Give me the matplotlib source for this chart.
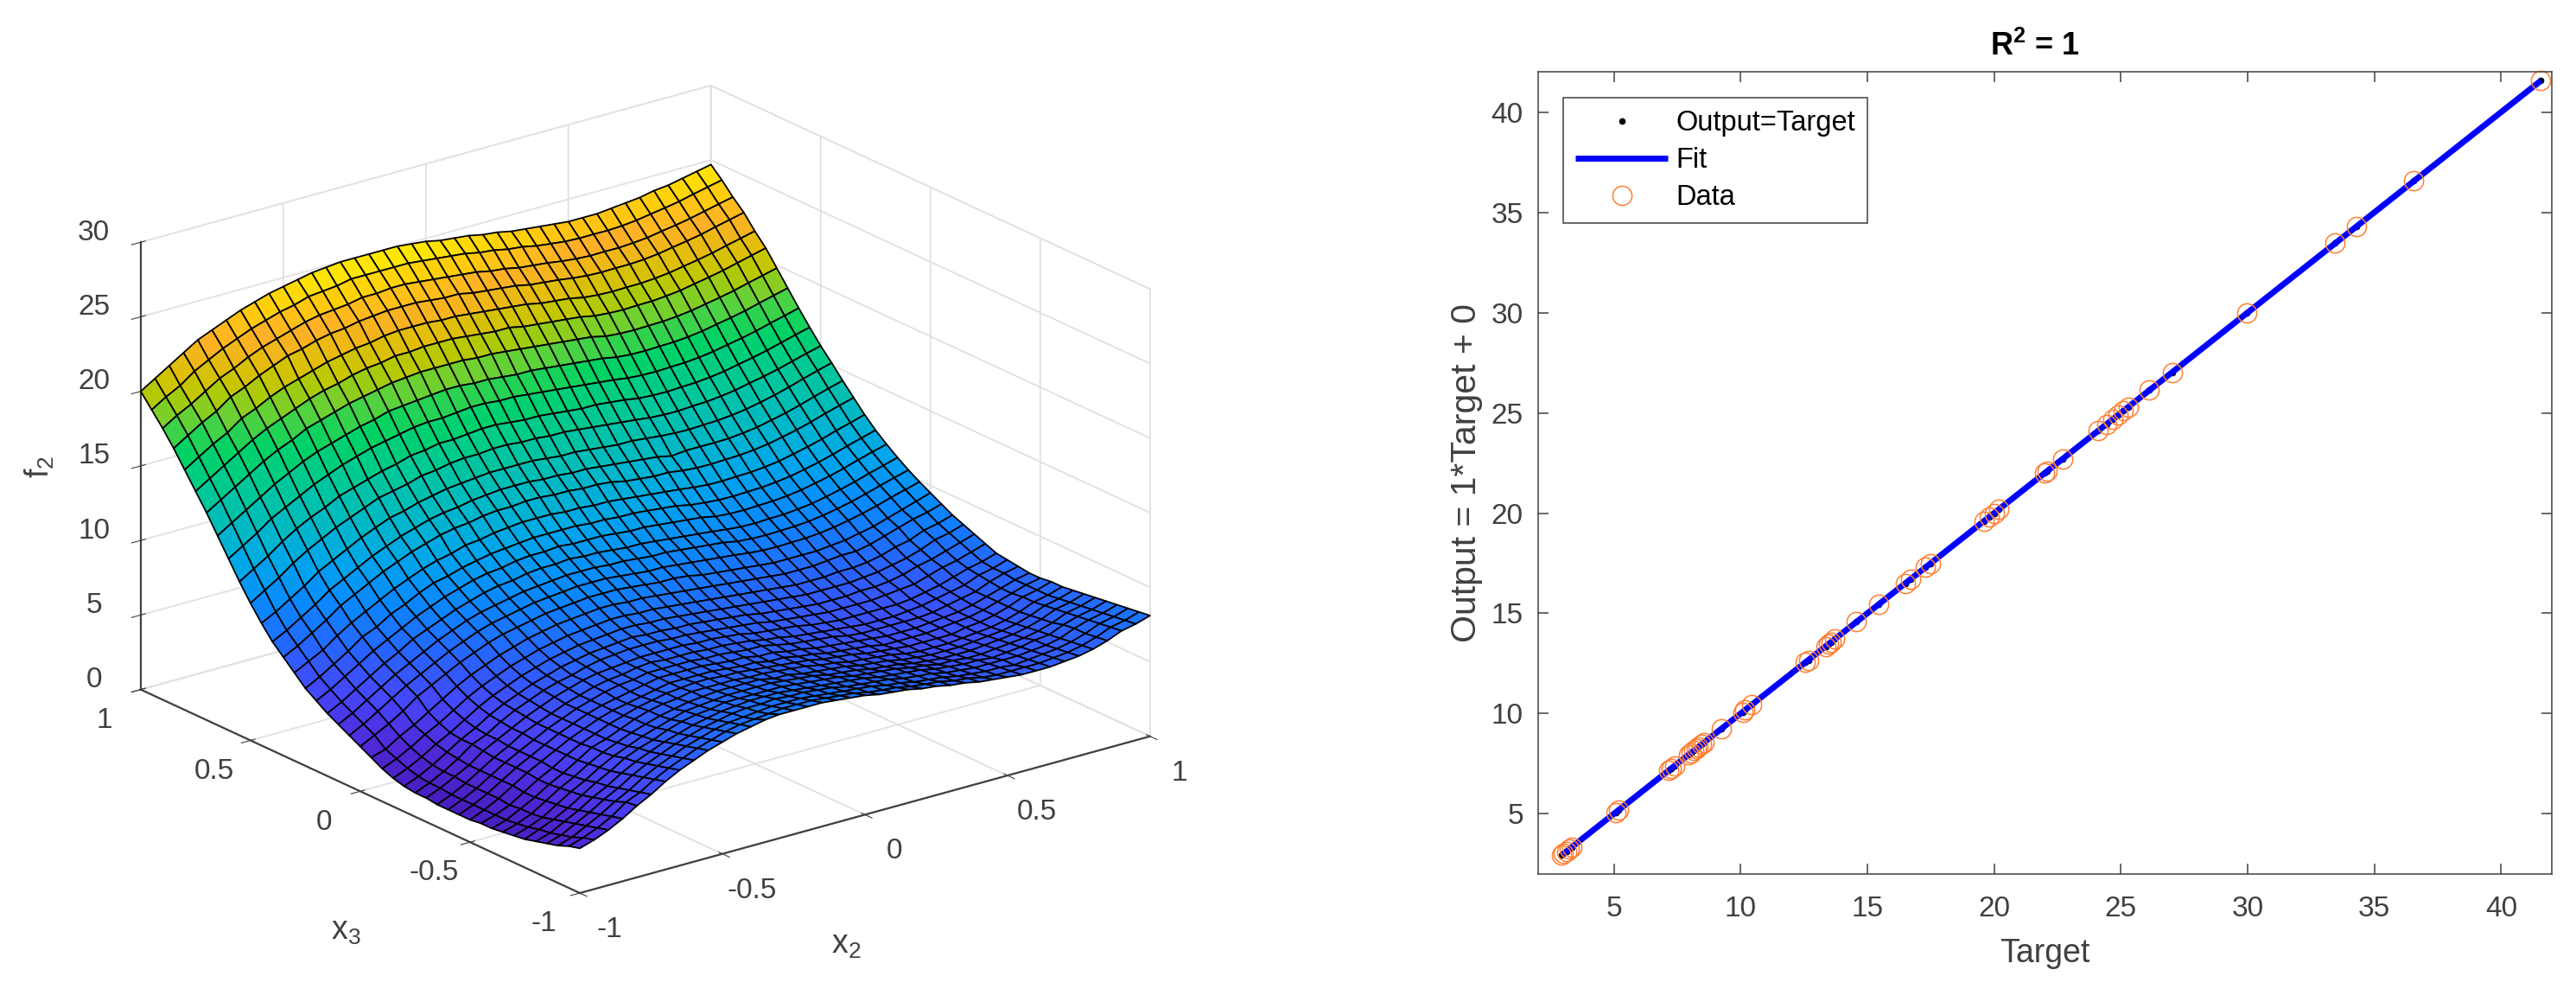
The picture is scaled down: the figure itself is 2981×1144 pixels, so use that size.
import numpy as np
import matplotlib
matplotlib.use('Agg')
import matplotlib.pyplot as plt
from matplotlib.colors import LinearSegmentedColormap, Normalize
from mpl_toolkits.mplot3d import proj3d

################################################################################
# Data
################################################################################
# Surface on the left: one row per x3 value, one column per x2 value
x2_vals = [i / 20 - 1 for i in range(41)]
x3_vals = [j / 20 - 1 for j in range(41)]
f2_vals = [
 [3.0,3.3,3.7,4.2,4.8,5.3,5.9,6.4,6.8,7.2,7.5,7.8,8.0,8.2,8.3,8.3,8.3,8.3,8.2,8.1,8.0,7.8,7.7,7.6,7.4,7.3,7.1,7.0,6.8,6.7,6.6,6.5,6.5,6.5,6.6,6.7,6.9,7.2,7.6,7.8,8.1],
 [2.8,3.1,3.5,4.0,4.7,5.1,5.7,6.2,6.6,7.0,7.3,7.6,7.8,7.9,8.0,8.1,8.1,8.1,8.0,7.9,7.8,7.6,7.5,7.4,7.2,7.1,7.0,6.8,6.7,6.5,6.4,6.4,6.4,6.4,6.5,6.6,6.8,7.1,7.5,7.7,8.0],
 [2.5,2.8,3.3,3.8,4.4,4.9,5.5,6.0,6.4,6.8,7.1,7.4,7.6,7.7,7.8,7.9,7.9,7.9,7.8,7.7,7.6,7.5,7.4,7.2,7.1,6.9,6.8,6.7,6.5,6.4,6.3,6.3,6.2,6.3,6.4,6.5,6.7,7.0,7.4,7.6,7.9],
 [2.3,2.6,3.1,3.6,4.2,4.7,5.3,5.8,6.2,6.6,6.9,7.2,7.4,7.6,7.7,7.7,7.8,7.7,7.7,7.6,7.5,7.3,7.2,7.1,7.0,6.8,6.7,6.6,6.4,6.3,6.2,6.2,6.2,6.2,6.3,6.4,6.6,7.0,7.3,7.5,7.8],
 [2.1,2.4,2.9,3.4,4.0,4.5,5.1,5.6,6.0,6.4,6.7,7.0,7.2,7.4,7.5,7.6,7.6,7.6,7.5,7.4,7.3,7.2,7.1,7.0,6.8,6.7,6.6,6.5,6.3,6.2,6.1,6.1,6.0,6.1,6.2,6.4,6.5,6.9,7.2,7.4,7.7],
 [1.9,2.3,2.7,3.2,3.8,4.4,4.9,5.5,5.9,6.2,6.6,6.9,7.1,7.2,7.4,7.4,7.4,7.4,7.4,7.3,7.2,7.1,7.0,6.8,6.7,6.6,6.5,6.3,6.2,6.0,6.0,5.9,5.9,6.0,6.1,6.2,6.4,6.7,7.1,7.3,7.6],
 [1.8,2.1,2.5,3.1,3.7,4.2,4.8,5.3,5.7,6.1,6.4,6.7,7.0,7.1,7.2,7.3,7.3,7.3,7.3,7.2,7.1,7.0,6.8,6.7,6.6,6.4,6.3,6.2,6.0,5.9,5.8,5.8,5.8,5.9,6.0,6.1,6.3,6.6,7.0,7.2,7.5],
 [1.7,2.0,2.4,3.0,3.6,4.1,4.7,5.2,5.6,6.0,6.3,6.6,6.8,7.0,7.1,7.2,7.2,7.2,7.2,7.0,7.0,6.8,6.7,6.6,6.5,6.3,6.2,6.1,5.9,5.8,5.7,5.7,5.7,5.8,5.9,6.0,6.2,6.5,6.9,7.1,7.4],
 [1.6,1.9,2.4,2.9,3.5,4.0,4.6,5.2,5.5,5.9,6.3,6.6,6.8,6.9,7.1,7.1,7.1,7.1,7.0,7.0,6.9,6.8,6.7,6.5,6.4,6.2,6.1,6.0,5.9,5.7,5.6,5.6,5.6,5.7,5.8,5.9,6.1,6.4,6.8,7.0,7.3],
 [1.6,1.9,2.3,2.9,3.5,4.0,4.6,5.1,5.5,5.9,6.2,6.5,6.7,6.9,7.0,7.1,7.1,7.0,7.0,6.9,6.8,6.7,6.6,6.5,6.3,6.2,6.1,5.9,5.8,5.7,5.6,5.6,5.6,5.6,5.8,5.9,6.1,6.4,6.8,7.0,7.3],
 [1.5,1.9,2.4,3.0,3.6,4.1,4.6,5.1,5.5,5.9,6.2,6.4,6.6,6.8,7.0,7.0,7.0,7.0,6.9,6.8,6.8,6.6,6.6,6.4,6.3,6.1,6.0,5.9,5.8,5.6,5.6,5.6,5.6,5.7,5.8,5.9,6.1,6.4,6.7,7.0,7.2],
 [1.5,1.9,2.4,3.0,3.6,4.1,4.6,5.1,5.5,5.9,6.2,6.4,6.6,6.8,7.0,7.0,7.0,7.0,6.9,6.8,6.8,6.6,6.6,6.4,6.3,6.1,6.0,5.9,5.8,5.7,5.6,5.6,5.6,5.7,5.8,5.9,6.1,6.4,6.7,7.0,7.2],
 [1.5,1.9,2.4,3.0,3.6,4.1,4.6,5.1,5.5,5.9,6.2,6.5,6.7,6.8,7.0,7.0,7.0,7.0,6.9,6.9,6.8,6.7,6.7,6.5,6.3,6.2,6.1,6.0,5.8,5.7,5.7,5.7,5.7,5.7,5.8,6.0,6.2,6.4,6.8,7.1,7.3],
 [1.5,1.9,2.4,3.0,3.6,4.1,4.7,5.1,5.5,5.9,6.2,6.5,6.7,6.8,7.0,7.1,7.0,7.0,7.0,6.9,6.9,6.8,6.7,6.5,6.4,6.2,6.1,6.0,5.9,5.8,5.7,5.7,5.7,5.8,5.9,6.1,6.3,6.5,6.9,7.1,7.4],
 [1.6,2.0,2.5,3.0,3.7,4.2,4.7,5.2,5.6,6.0,6.3,6.6,6.8,6.9,7.0,7.1,7.1,7.1,7.1,7.0,7.0,6.9,6.8,6.6,6.5,6.4,6.3,6.1,6.0,5.9,5.9,5.9,5.9,5.9,6.0,6.2,6.4,6.7,7.0,7.2,7.5],
 [1.6,2.0,2.5,3.1,3.8,4.2,4.8,5.3,5.7,6.1,6.4,6.6,6.9,7.1,7.2,7.3,7.3,7.3,7.2,7.2,7.1,7.0,6.9,6.8,6.7,6.5,6.4,6.3,6.2,6.1,6.1,6.1,6.1,6.2,6.3,6.4,6.7,7.0,7.2,7.5,7.8],
 [1.7,2.1,2.6,3.2,3.8,4.3,4.9,5.4,5.8,6.2,6.5,6.8,7.0,7.2,7.3,7.4,7.5,7.4,7.4,7.3,7.3,7.2,7.1,7.0,6.9,6.7,6.6,6.5,6.4,6.3,6.3,6.3,6.4,6.4,6.5,6.7,7.0,7.2,7.5,7.8,8.1],
 [1.9,2.3,2.8,3.4,3.9,4.5,5.1,5.6,6.0,6.4,6.7,7.0,7.2,7.4,7.5,7.6,7.7,7.7,7.6,7.6,7.5,7.4,7.3,7.2,7.1,7.0,6.9,6.8,6.7,6.6,6.6,6.6,6.6,6.7,6.8,7.0,7.2,7.5,7.9,8.1,8.4],
 [2.2,2.6,3.1,3.7,4.2,4.8,5.4,5.9,6.3,6.7,7.0,7.3,7.5,7.7,7.8,7.9,8.0,8.0,7.9,7.9,7.8,7.7,7.6,7.5,7.4,7.3,7.2,7.1,7.0,6.9,6.9,6.9,7.0,7.0,7.1,7.3,7.6,7.8,8.2,8.4,8.7],
 [2.6,2.9,3.5,4.0,4.6,5.2,5.8,6.3,6.7,7.1,7.4,7.7,7.9,8.1,8.2,8.3,8.4,8.4,8.3,8.3,8.2,8.1,8.0,7.9,7.8,7.7,7.6,7.5,7.4,7.3,7.3,7.3,7.4,7.5,7.5,7.7,8.0,8.3,8.6,8.8,9.1],
 [3.0,3.5,4.0,4.6,5.3,5.8,6.3,6.8,7.2,7.6,7.9,8.1,8.3,8.5,8.6,8.7,8.8,8.8,8.8,8.7,8.6,8.5,8.5,8.4,8.2,8.1,8.0,7.9,7.8,7.7,7.7,7.7,7.7,7.8,7.9,8.1,8.3,8.6,8.9,9.2,9.5],
 [3.4,3.9,4.5,5.1,5.7,6.2,6.7,7.2,7.6,8.0,8.3,8.5,8.7,8.9,9.0,9.1,9.2,9.2,9.2,9.1,9.0,8.9,8.9,8.8,8.7,8.6,8.5,8.4,8.28,8.19,8.17,8.2,8.22,8.3,8.43,8.62,8.83,9.08,9.38,9.64,9.9],
 [3.8,4.3,4.9,5.5,6.1,6.6,7.1,7.6,8.0,8.4,8.7,8.9,9.1,9.3,9.4,9.5,9.6,9.6,9.6,9.5,9.5,9.4,9.3,9.3,9.2,9.1,9.0,8.9,8.72,8.64,8.61,8.64,8.67,8.75,8.88,9.07,9.28,9.54,9.83,10.1,10.35],
 [4.2,4.7,5.3,5.9,6.5,7.0,7.6,8.0,8.4,8.8,9.1,9.4,9.6,9.7,9.9,10.0,10.0,10.1,10.0,10.0,9.9,9.8,9.8,9.7,9.6,9.5,9.4,9.3,9.18,9.09,9.07,9.11,9.13,9.22,9.34,9.54,9.76,10.01,10.31,10.57,10.85],
 [4.7,5.2,5.8,6.4,7.0,7.5,8.0,8.5,8.9,9.3,9.6,9.9,10.1,10.2,10.4,10.5,10.5,10.6,10.5,10.5,10.5,10.4,10.3,10.3,10.2,10.1,10.0,9.9,9.71,9.63,9.61,9.65,9.68,9.77,9.9,10.1,10.31,10.57,10.87,11.14,11.4],
 [5.2,5.7,6.3,6.9,7.6,8.0,8.6,9.0,9.5,9.9,10.1,10.4,10.6,10.8,10.9,11.0,11.1,11.1,11.1,11.1,11.0,11.0,10.9,10.9,10.8,10.7,10.6,10.4,10.29,10.21,10.19,10.23,10.26,10.35,10.48,10.68,10.9,11.16,11.46,11.73,12.0],
 [5.9,6.4,6.9,7.6,8.2,8.7,9.2,9.7,10.1,10.5,10.8,11.0,11.3,11.4,11.6,11.7,11.8,11.8,11.8,11.7,11.7,11.6,11.6,11.5,11.4,11.3,11.2,11.1,10.97,10.89,10.87,10.91,10.94,11.03,11.16,11.37,11.59,11.85,12.15,12.42,12.7],
 [6.6,7.1,7.7,8.3,9.0,9.5,10.0,10.5,10.9,11.3,11.6,11.9,12.1,12.2,12.4,12.5,12.5,12.6,12.6,12.5,12.5,12.4,12.4,12.3,12.1,12.0,11.9,11.9,11.76,11.68,11.67,11.71,11.74,11.83,11.97,12.17,12.39,12.65,12.96,13.23,13.5],
 [7.3,7.8,8.4,9.0,9.7,10.2,10.7,11.2,11.6,12.0,12.3,12.6,12.8,12.9,13.1,13.2,13.3,13.3,13.3,13.2,13.2,13.1,13.1,13.0,12.9,12.8,12.7,12.6,12.4,12.5,12.5,12.5,12.52,12.62,12.75,12.96,13.18,13.45,13.75,14.03,14.3],
 [8.2,8.7,9.3,9.9,10.6,11.1,11.6,12.1,12.5,12.9,13.1,13.4,13.6,13.8,13.9,14.0,14.1,14.1,14.1,14.1,14.0,13.9,13.9,13.8,13.7,13.6,13.6,13.5,13.4,13.33,13.31,13.35,13.39,13.48,13.62,13.82,14.04,14.31,14.61,14.89,15.15],
 [9.2,9.8,10.4,11.1,11.7,12.2,12.7,13.1,13.5,13.9,14.1,14.3,14.6,14.7,14.9,15.0,15.0,15.1,15.1,15.0,15.0,14.9,14.9,14.8,14.7,14.6,14.5,14.4,14.28,14.22,14.21,14.27,14.31,14.41,14.55,14.76,14.95,15.17,15.44,15.7,15.95],
 [10.3,10.9,11.5,12.2,12.8,13.3,13.7,14.2,14.5,14.8,15.1,15.3,15.6,15.7,15.9,15.9,16.0,16.1,16.1,16.0,15.9,15.9,15.8,15.7,15.6,15.6,15.5,15.4,15.24,15.18,15.16,15.21,15.25,15.34,15.48,15.68,15.87,16.09,16.35,16.61,16.85],
 [11.5,12.1,12.7,13.4,13.9,14.4,14.9,15.3,15.7,16.0,16.3,16.5,16.7,16.9,17.0,17.0,17.1,17.2,17.2,17.1,17.1,17.0,16.9,16.8,16.7,16.6,16.5,16.4,16.26,16.19,16.17,16.21,16.24,16.33,16.46,16.65,16.84,17.05,17.31,17.55,17.8],
 [12.7,13.3,13.9,14.5,15.1,15.6,16.1,16.5,16.8,17.1,17.4,17.6,17.9,18.0,18.1,18.2,18.3,18.3,18.2,18.2,18.1,18.0,18.0,17.9,17.8,17.7,17.6,17.5,17.32,17.24,17.22,17.26,17.28,17.36,17.49,17.68,17.86,18.06,18.32,18.56,18.8],
 [13.9,14.5,15.1,15.7,16.3,16.8,17.2,17.7,18.0,18.3,18.6,18.8,19.0,19.2,19.3,19.4,19.4,19.4,19.4,19.3,19.3,19.2,19.1,19.0,18.9,18.8,18.7,18.6,18.38,18.3,18.27,18.3,18.32,18.4,18.52,18.7,18.88,19.08,19.33,19.56,19.8],
 [15.0,15.6,16.2,16.8,17.4,17.9,18.3,18.7,19.1,19.4,19.6,19.9,20.1,20.2,20.4,20.4,20.5,20.5,20.5,20.4,20.3,20.2,20.2,20.0,19.9,19.8,19.7,19.6,19.41,19.33,19.29,19.33,19.34,19.42,19.53,19.72,19.89,20.09,20.33,20.57,20.8],
 [16.1,16.7,17.3,17.8,18.5,18.9,19.4,19.8,20.1,20.4,20.7,20.9,21.1,21.2,21.4,21.5,21.5,21.5,21.4,21.4,21.3,21.2,21.1,21.0,20.9,20.7,20.6,20.5,20.3,20.21,20.17,20.19,20.2,20.27,20.38,20.55,20.72,20.91,21.15,21.37,21.6],
 [17.2,17.8,18.4,18.9,19.6,20.0,20.5,20.9,21.3,21.5,21.8,22.0,22.1,22.3,22.4,22.5,22.5,22.5,22.4,22.3,22.3,22.1,22.0,21.9,21.8,21.6,21.5,21.4,21.26,21.16,21.12,21.14,21.14,21.2,21.31,21.48,21.64,21.82,22.06,22.28,22.5],
 [18.2,18.8,19.3,19.9,20.5,20.9,21.4,21.8,22.1,22.4,22.7,22.9,23.0,23.1,23.3,23.3,23.4,23.4,23.3,23.2,23.1,23.0,22.9,22.7,22.6,22.4,22.3,22.2,22.05,21.95,21.89,21.91,21.9,21.96,22.05,22.22,22.37,22.55,22.77,22.99,23.2],
 [19.1,19.7,20.2,20.9,21.4,21.9,22.3,22.7,23.0,23.3,23.5,23.8,23.9,24.0,24.2,24.2,24.2,24.2,24.2,24.1,24.0,23.9,23.8,23.6,23.5,23.3,23.2,23.0,22.88,22.77,22.72,22.73,22.72,22.77,22.87,23.03,23.18,23.35,23.58,23.79,24.0],
 [20.0,20.6,21.2,21.8,22.4,22.8,23.2,23.6,23.9,24.2,24.4,24.6,24.8,24.9,25.0,25.0,25.0,25.0,25.0,24.9,24.8,24.6,24.5,24.4,24.2,24.1,23.9,23.8,23.7,23.6,23.5,23.5,23.5,23.6,23.7,23.8,24.0,24.1,24.3,24.5,24.7],
]
x_ticks_3d = [-1, -0.5, 0, 0.5, 1]
x_tick_labels_3d = ['-1', '-0.5', '0', '0.5', '1']
z_ticks_3d = [0, 5, 10, 15, 20, 25, 30]

# Scatter on the right: Output equals Target for every point
target_vals = [2.95, 3.02, 3.13, 3.24, 3.33, 5.08, 5.18, 7.16, 7.26, 7.39,
               7.96, 8.04, 8.15, 8.24, 8.33, 8.45, 8.57, 9.26, 10.08, 10.18,
               10.44, 12.55, 12.67, 13.36, 13.46, 13.56, 13.72, 14.57, 15.44,
               16.5, 16.7, 17.3, 17.5, 19.6, 19.8, 20.0, 20.2, 22.0, 22.1,
               22.7, 24.11, 24.44, 24.69, 24.9, 25.09, 25.3, 26.13, 27.02,
               29.97, 33.46, 34.31, 36.56, 41.57]
output_vals = list(target_vals)
fit_x = [2.95, 41.57]
fit_y = [2.95, 41.57]
ticks_2d = [5, 10, 15, 20, 25, 30, 35, 40]

################################################################################
# Figure setup
################################################################################
W, H = 2981, 1144
plt.rcParams['font.family'] = ['Liberation Sans', 'DejaVu Sans']
plt.rcParams['mathtext.fontset'] = 'custom'
plt.rcParams['mathtext.rm'] = 'Liberation Sans'
plt.rcParams['mathtext.bf'] = 'Liberation Sans:bold'
plt.rcParams['mathtext.default'] = 'regular'
plt.rcParams['axes.unicode_minus'] = False
plt.rcParams['grid.color'] = '#e2e2e2'
plt.rcParams['grid.linewidth'] = 1.4

TICK_GRAY = '#404040'
fig = plt.figure(figsize=(W / 100, H / 100), dpi=100)

################################################################################
# Left: the surface
################################################################################
stops = [(1.5, '#461EBE'), (3, '#5028D7'), (5, '#4646FA'), (7, '#2864FF'),
         (9, '#0A87FF'), (11, '#00A5EB'), (13, '#00B9C3'), (15, '#00C896'),
         (17, '#00D264'), (18.5, '#5AD23C'), (20, '#BEC800'), (21, '#E1BE0A'),
         (22.3, '#FFAF28'), (23.5, '#FFCD0A'), (25, '#FFF000')]
zmin, zmax = 1.5, 25
surfCmap = LinearSegmentedColormap.from_list(
    'surf', [((z - zmin) / (zmax - zmin), c) for z, c in stops])

ax3 = fig.add_axes([0.0, 0.0, H / W, 1.0], projection='3d', proj_type='ortho')
ax3.view_init(elev=20.9, azim=-127.6)
ax3.set_box_aspect((1, 1, 0.665))
ax3.patch.set_alpha(0)

X, Y = np.meshgrid(x2_vals, x3_vals)
ax3.plot_surface(X, Y, np.array(f2_vals), rstride=1, cstride=1, cmap=surfCmap,
                 norm=Normalize(zmin, zmax), edgecolor='black', linewidth=1.3,
                 shade=False, antialiased=True)

ax3.set_xlim(-1, 1, view_margin=0)
ax3.set_ylim(-1, 1, view_margin=0)
ax3.set_zlim(0, 30, view_margin=0)
ax3.set_xticks(x_ticks_3d)
ax3.set_xticklabels(x_tick_labels_3d, va='baseline')
ax3.set_yticks(x_ticks_3d)
ax3.set_yticklabels(x_tick_labels_3d, va='baseline')
ax3.set_zticks(z_ticks_3d)
ax3.set_zticklabels([str(z) for z in z_ticks_3d], va='baseline')
ax3.tick_params(labelsize=24, labelcolor=TICK_GRAY, color=TICK_GRAY)
ax3.tick_params(axis='x', pad=24)
ax3.tick_params(axis='y', pad=22)
ax3.tick_params(axis='z', pad=14)
for axis in (ax3.xaxis, ax3.yaxis, ax3.zaxis):
    axis.set_pane_color((1, 1, 1, 1))
    axis.pane.set_edgecolor('#e2e2e2')
    axis.line.set_color(TICK_GRAY)
    axis.line.set_linewidth(1.6)

# The axes are square, so scale and shift them until the box corners land
# where they sit in the reference
def cornerPx(x, y, z):
    xp, yp, _ = proj3d.proj_transform(x, y, z, ax3.get_proj())
    return ax3.transData.transform((xp, yp))

side = H
fig.canvas.draw()
left3, right3 = cornerPx(-1, 1, 0), cornerPx(1, -1, 0)
side = side * (1332 - 164) / (right3[0] - left3[0])
ax3.set_position([0, 0, side / W, side / H])
fig.canvas.draw()
front3 = cornerPx(-1, -1, 0)
offX, offY = 671 - front3[0], (H - 1033) - front3[1]
ax3.set_position([offX / W, offY / H, side / W, side / H])

fig.text(400 / W, 1 - 1077 / H, 'x$_3$', fontsize=27, color=TICK_GRAY,
         ha='center', va='center')
fig.text(979 / W, 1 - 1093 / H, 'x$_2$', fontsize=27, color=TICK_GRAY,
         ha='center', va='center')
fig.text(46 / W, 1 - 540 / H, 'f$_2$', fontsize=27, color=TICK_GRAY,
         ha='center', va='center', rotation=90)

################################################################################
# Right: Output vs Target
################################################################################
ax = fig.add_axes([1779.5 / W, 1 - 1011 / H, (2953 - 1779.5) / W,
                   (1011 - 83.3) / H])
ax.plot(target_vals, output_vals, linestyle='none', marker='.', color='black',
        markersize=9, label='Output=Target')
ax.plot(fit_x, fit_y, color='#0000FF', linewidth=5, label='Fit',
        solid_capstyle='butt')
ax.plot(target_vals, output_vals, linestyle='none', marker='o',
        markerfacecolor='none', markeredgecolor='#FF7F32', markersize=16,
        markeredgewidth=1.1, label='Data', clip_on=False)
ax.set_xlim(2, 42)
ax.set_ylim(2, 42)
ax.set_xticks(ticks_2d)
ax.set_yticks(ticks_2d)
ax.tick_params(direction='in', length=8.6, width=1.1, labelsize=24,
               labelcolor=TICK_GRAY, color=TICK_GRAY, top=True, right=True)
ax.tick_params(axis='x', pad=18)
ax.tick_params(axis='y', pad=12)
for spine in ax.spines.values():
    spine.set_color(TICK_GRAY)
    spine.set_linewidth(1.1)

ax.set_title(r'$\mathbf{R^2}$ = 1', fontsize=26, fontweight='bold', pad=14,
             x=0.49)
ax.set_xlabel('Target', fontsize=27, color=TICK_GRAY, labelpad=13)
ax.set_ylabel('Output = 1*Target + 0', fontsize=29.5, color=TICK_GRAY,
              labelpad=7)

leg = ax.legend(loc='upper left', bbox_to_anchor=(1809 / W, 1 - 113 / H),
                bbox_transform=fig.transFigure, borderaxespad=0, fontsize=23.5,
                handlelength=3.28, handletextpad=0.28, labelspacing=0.37,
                borderpad=0.43, fancybox=False, framealpha=1,
                edgecolor=TICK_GRAY)
leg.get_frame().set_linewidth(1.1)

plt.savefig('out.png', dpi=100)
